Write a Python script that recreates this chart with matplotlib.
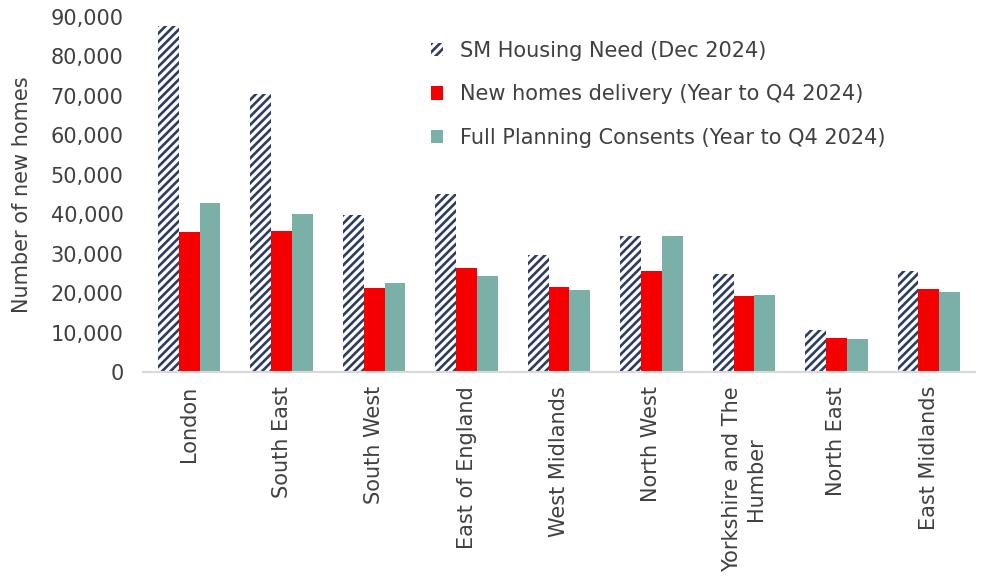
import matplotlib

matplotlib.use("Agg")
import matplotlib.pyplot as plt
import numpy as np
from matplotlib.ticker import FuncFormatter

regions = ["London", "South East", "South West", "East of England", "West Midlands",
           "North West", "Yorkshire and The\nHumber", "North East", "East Midlands"]
housing_need = [87800, 70500, 39800, 45200, 29700, 34500, 24800, 10700, 25600]
delivery = [35600, 35700, 21300, 26400, 21500, 25700, 19300, 8700, 21100]
consents = [42900, 40100, 22600, 24300, 20900, 34500, 19400, 8400, 20300]
series_labels = ["SM Housing Need (Dec 2024)",
                 "New homes delivery (Year to Q4 2024)",
                 "Full Planning Consents (Year to Q4 2024)"]

NAVY = "#2D3C63"
RED = "#F50000"
TEAL = "#7AB0A8"
TXT = "#404040"

plt.rcParams["font.family"] = "DejaVu Sans"
plt.rcParams["hatch.linewidth"] = 1.9

fig = plt.figure(figsize=(9.95, 5.78), dpi=100)
ax = fig.add_axes([0.1437, 0.3564, 0.8363, 0.6142])

x = np.arange(len(regions))
w = 0.225
ax.bar(x - w, housing_need, w, facecolor="white", edgecolor=NAVY, hatch="////", lw=0,
       label=series_labels[0])
ax.bar(x, delivery, w, color=RED, lw=0, label=series_labels[1])
ax.bar(x + w, consents, w, color=TEAL, lw=0, label=series_labels[2])

ax.set_xlim(-0.5, len(regions) - 0.5)
ax.set_ylim(0, 90000)
ax.set_yticks(np.arange(0, 90001, 10000))
ax.yaxis.set_major_formatter(FuncFormatter(lambda v, p: f"{int(v):,}"))
ax.set_xticks(x)
ax.set_xticklabels(regions, rotation=90, ha="center", va="top", multialignment="center")
ax.tick_params(axis="both", length=0, labelsize=15, colors=TXT)
ax.tick_params(axis="x", pad=10)
ax.tick_params(axis="y", pad=14)
for s in ["top", "right", "left"]:
    ax.spines[s].set_visible(False)
ax.spines["bottom"].set_color("#D9D9D9")
ax.spines["bottom"].set_linewidth(1.5)
ax.set_ylabel("Number of new homes", fontsize=15, color=TXT)
ax.yaxis.set_label_coords(-0.133, 0.5)

leg = ax.legend(loc="upper left", bbox_to_anchor=(0.323, 0.985), frameon=False, fontsize=15,
                handlelength=0.6, handleheight=0.6, handletextpad=0.8, labelspacing=1.12)
for t in leg.get_texts():
    t.set_color(TXT)

fig.savefig("out.png", dpi=100)
